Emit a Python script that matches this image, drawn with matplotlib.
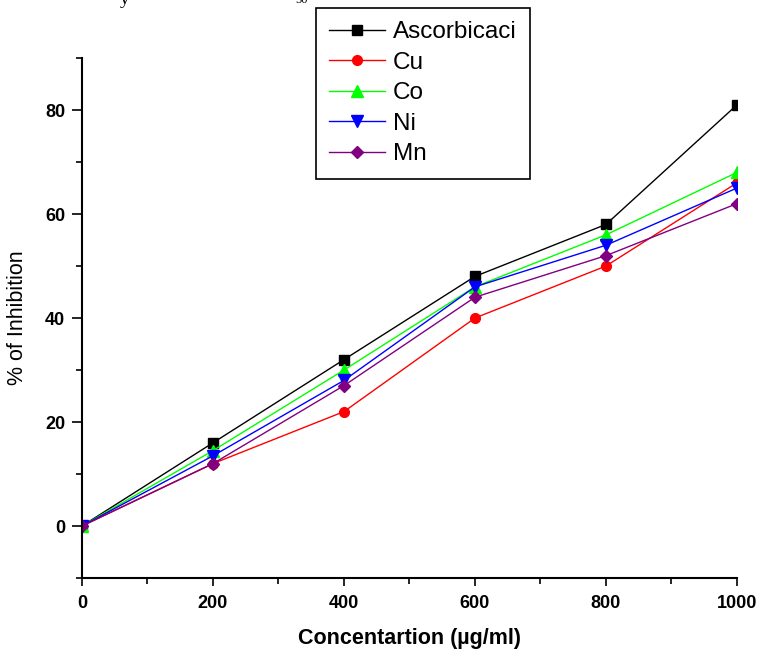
import matplotlib
matplotlib.use("Agg")
import matplotlib.pyplot as plt
from matplotlib.ticker import MultipleLocator
from matplotlib import font_manager as fm

conc = [0, 200, 400, 600, 800, 1000]
ascorbic = [0, 16, 32, 48, 58, 81]
cu = [0, 12, 22, 40, 50, 66]
co = [0, 14.5, 30, 46, 56, 68]
ni = [0, 13.5, 28, 46, 54, 65]
mn = [0, 12, 27, 44, 52, 62]

series = [
    ("Ascorbicaci", ascorbic, "black", "s"),
    ("Cu", cu, "red", "o"),
    ("Co", co, "#00ff00", "^"),
    ("Ni", ni, "blue", "v"),
    ("Mn", mn, "purple", "D"),
]

plt.rcParams['font.family'] = ["Liberation Sans", "DejaVu Sans"]
tickfont = fm.FontProperties(family=["Liberation Sans", "DejaVu Sans"], weight="bold", size=13)
labfont = fm.FontProperties(family=["Liberation Sans", "DejaVu Sans"], weight="bold", size=15.5)

fig = plt.figure(figsize=(7.59, 6.52), dpi=100)
ax = fig.add_axes([0.108, 0.1135, 0.863, 0.7975])

for name, vals, col, mk in series:
    ms = 7 if mk in ("s", "o") else 8
    if mk == "D":
        ms = 6.5
    ax.plot(conc, vals, color=col, marker=mk, markersize=ms, linewidth=1, label=name)

ax.set_xlim(0, 1000)
ax.set_ylim(-10, 90)
ax.set_xticks(conc)
ax.set_yticks([0, 20, 40, 60, 80])
ax.xaxis.set_minor_locator(MultipleLocator(100))
ax.yaxis.set_minor_locator(MultipleLocator(10))
for s in ("top", "right"):
    ax.spines[s].set_visible(False)
for s in ("left", "bottom"):
    ax.spines[s].set_linewidth(1.5)
ax.tick_params(axis="x", which="major", length=6, width=1.2, direction="out", pad=6)
ax.tick_params(axis="y", which="major", length=7, width=1.2, direction="out", pad=5)
ax.tick_params(axis="both", which="minor", length=4, width=1.2, direction="out")
for lab in ax.get_xticklabels() + ax.get_yticklabels():
    lab.set_fontproperties(tickfont)

ax.set_xlabel("Concentartion (µg/ml)", fontproperties=labfont, labelpad=12)
ax.set_ylabel("% of Inhibition", fontsize=15.5, labelpad=12.5)

leg = ax.legend(loc="upper left", bbox_to_anchor=(316 / 759, 1 - 8 / 652),
                bbox_transform=fig.transFigure, fontsize=17.5, fancybox=False,
                edgecolor="black", framealpha=1, handlelength=2.3,
                handletextpad=0.3, labelspacing=0.35, borderpad=0.55,
                borderaxespad=0)
leg.get_frame().set_linewidth(1.2)

# cropped caption at the top of the image
fig.text(120 / 759, 1.0, "y", fontsize=14, family="Liberation Serif", va="center", ha="left")
fig.text(295 / 759, 1.0, "50", fontsize=9, family="Liberation Serif", va="center", ha="left")

fig.savefig("out.png", dpi=100)
